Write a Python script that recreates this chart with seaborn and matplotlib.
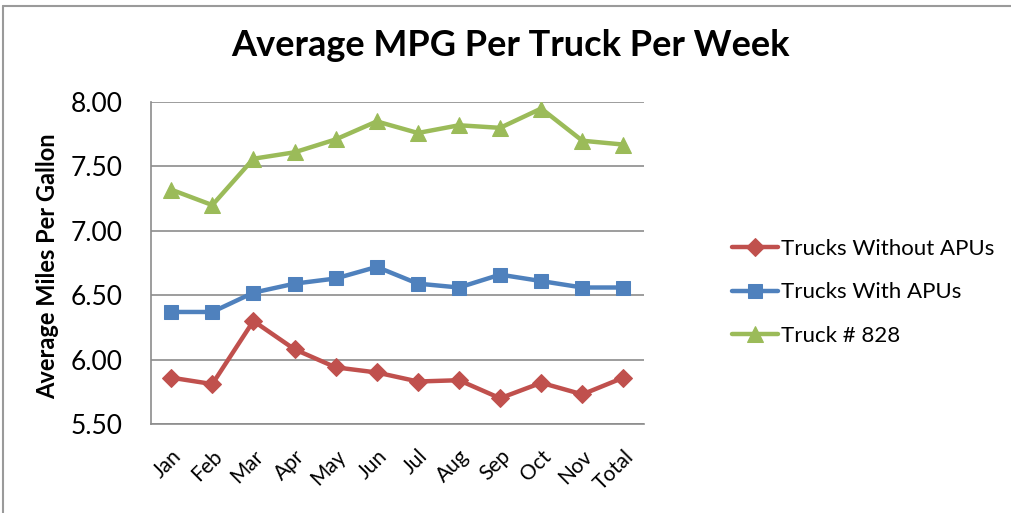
import pandas as pd
import matplotlib
matplotlib.use("Agg")
import matplotlib.pyplot as plt
import seaborn as sns

# Data
months = ["Jan", "Feb", "Mar", "Apr", "May", "Jun", "Jul", "Aug", "Sep", "Oct", "Nov", "Total"]
without_apus = [5.86, 5.81, 6.30, 6.08, 5.94, 5.90, 5.83, 5.84, 5.70, 5.82, 5.73, 5.86]
with_apus = [6.37, 6.37, 6.52, 6.59, 6.63, 6.72, 6.59, 6.56, 6.66, 6.61, 6.56, 6.56]
truck_828 = [7.32, 7.20, 7.56, 7.61, 7.71, 7.85, 7.76, 7.82, 7.80, 7.95, 7.70, 7.67]

series_names = ["Trucks Without APUs", "Trucks With APUs", "Truck # 828"]
colors = ["#C0504D", "#4F81BD", "#9BBB59"]
markers = ["D", "s", "^"]
msizes = [9, 10, 11]

df = pd.DataFrame({"Month": months * 3,
                   "MPG": without_apus + with_apus + truck_828,
                   "Series": [n for n in series_names for _ in months]})

sns.set_style("white")
plt.rcParams["font.family"] = ["Lato", "DejaVu Sans"]
plt.rcParams["text.color"] = "black"
plt.rcParams["xtick.color"] = "black"
plt.rcParams["ytick.color"] = "black"

fig = plt.figure(figsize=(10.11, 5.13), dpi=100)
ax = fig.add_axes([0.149, 0.1735, 0.488, 0.6275])

for name, c, m, ms in zip(series_names, colors, markers, msizes):
    sns.lineplot(data=df[df["Series"] == name], x="Month", y="MPG", color=c,
                 marker=m, markersize=ms, markeredgecolor=c, linewidth=3.2,
                 label=name, ax=ax, sort=False)

ax.set_xlim(-0.5, 11.5)
ax.set_ylim(5.5, 8.0)
ax.set_yticks([5.5, 6.0, 6.5, 7.0, 7.5, 8.0])
ax.set_yticklabels([f"{v:.2f}" for v in [5.5, 6.0, 6.5, 7.0, 7.5, 8.0]])
ax.yaxis.grid(True, color="#8C8C8C", linewidth=1.2)
ax.set_axisbelow(True)
ax.set_xlabel("")
ax.set_ylabel("")
for s in ["top", "right"]:
    ax.spines[s].set_visible(False)
for s in ["left", "bottom"]:
    ax.spines[s].set_color("#8C8C8C")
    ax.spines[s].set_linewidth(1.2)

ax.tick_params(axis="y", length=0, pad=20, labelsize=19)
ax.tick_params(axis="x", length=0, pad=16, labelsize=15)
plt.setp(ax.get_xticklabels(), rotation=45, ha="right", rotation_mode="anchor")

ax.legend(loc="center left", bbox_to_anchor=(0.704, 0.43), bbox_transform=fig.transFigure,
          frameon=False, fontsize=16, handlelength=2.1, handletextpad=0.1,
          labelspacing=1.05, numpoints=1)

fig.text(0.505, 1 - 46 / 513, "Average MPG Per Truck Per Week", ha="center", va="center",
         fontsize=26, fontweight="bold")
fig.text(48 / 1011, 1 - 266 / 513, "Average Miles Per Gallon", ha="center", va="center",
         rotation=90, fontsize=17, fontweight="bold")

# outer chart frame (top and left edges visible)
fig.add_artist(plt.Line2D([3 / 1011, 1], [1 - 6 / 513, 1 - 6 / 513], color="#9A9A9A", linewidth=1.5))
fig.add_artist(plt.Line2D([3 / 1011, 3 / 1011], [0, 1 - 6 / 513], color="#9A9A9A", linewidth=1.5))

fig.savefig("out.png", dpi=100)
